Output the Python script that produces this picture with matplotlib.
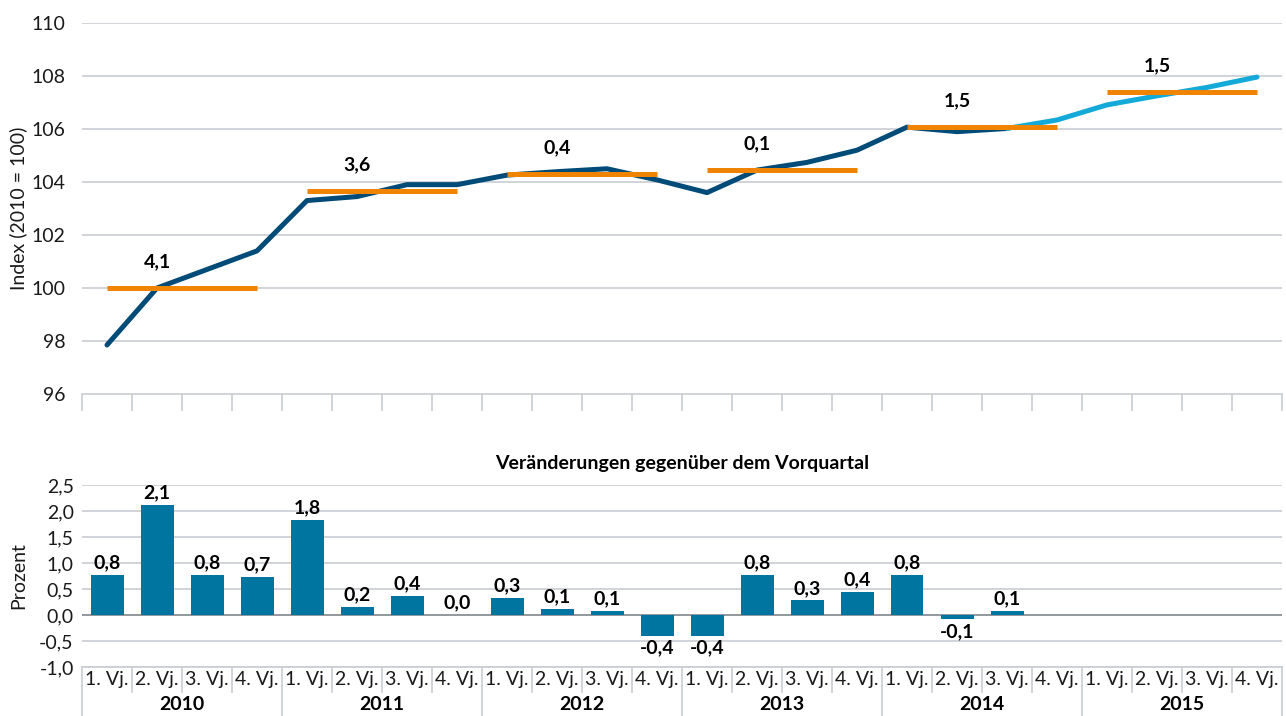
import matplotlib
matplotlib.use("Agg")
import matplotlib.pyplot as plt
import matplotlib.transforms as mtransforms
import numpy as np

plt.rcParams['font.family'] = ['Lato', 'DejaVu Sans']

years = ["2010", "2011", "2012", "2013", "2014", "2015"]
quarters = ["1. Vj.", "2. Vj.", "3. Vj.", "4. Vj."]

# Index (2010 = 100), quarterly; actual values through 2014 Q3, forecast after
index_actual = [97.85, 100.0, 100.7, 101.4, 103.3, 103.45, 103.9, 103.9,
                104.26, 104.39, 104.5, 104.08, 103.6, 104.45, 104.74, 105.2,
                106.07, 105.9, 106.02]
index_forecast = [106.02, 106.34, 106.91, 107.25, 107.57, 107.96]

# Annual averages and annual growth rates
annual_avg = [100.0, 103.66, 104.3, 104.45, 106.08, 107.4]
annual_growth = ["4,1", "3,6", "0,4", "0,1", "1,5", "1,5"]

# Change vs previous quarter (percent)
qoq_change = [0.77, 2.11, 0.77, 0.74, 1.83, 0.16, 0.36, 0.0,
              0.32, 0.12, 0.08, -0.40, -0.40, 0.77, 0.28, 0.44,
              0.77, -0.08, 0.08]

yticks_top = [96, 98, 100, 102, 104, 106, 108, 110]
yticks_bot = [-1.0, -0.5, 0.0, 0.5, 1.0, 1.5, 2.0, 2.5]

DARK = "#004b78"
LIGHT = "#13a9d8"
ORANGE = "#f08300"
BAR = "#0075a0"
GRID = "#c8cdd3"
TXT = "#1a1a1a"
FS = 14

n = len(years) * len(quarters)
x = np.arange(n)

fig = plt.figure(figsize=(12.86, 7.16), dpi=100)
W, H = 1286, 716
L, R = 82 / W, 1282 / W

# ---------------- top panel ----------------
ax = fig.add_axes([L, 1 - 394 / H, R - L, (394 - 23) / H])
ax.set_xlim(-0.5, n - 0.5)
ax.set_ylim(96, 110)
ax.set_yticks(yticks_top)
ax.set_yticklabels([str(t) for t in yticks_top], fontsize=FS, color=TXT)
for t in yticks_top[1:]:
    ax.axhline(t, color=GRID, lw=1.2, zorder=0)
for s in ["top", "right", "left"]:
    ax.spines[s].set_visible(False)
ax.spines["bottom"].set_color(GRID)
ax.spines["bottom"].set_linewidth(1.2)
ax.tick_params(axis="y", length=0, pad=12)
ax.set_xticks(np.arange(n + 1) - 0.5)
ax.set_xticklabels([])
ax.tick_params(axis="x", length=12, color=GRID, width=1.2, direction="out")
ax.set_ylabel("Index (2010 = 100)", fontsize=FS, color=TXT)
ax.yaxis.set_label_coords(-0.046, 0.5)

ax.plot(x[:len(index_actual)], index_actual, color=DARK, lw=3.6,
        solid_capstyle="round", solid_joinstyle="round", zorder=3)
xf = x[len(index_actual) - 1:len(index_actual) - 1 + len(index_forecast)]
ax.plot(xf, index_forecast, color=LIGHT, lw=3.6,
        solid_capstyle="round", solid_joinstyle="round", zorder=3)

for i, (avg, lab) in enumerate(zip(annual_avg, annual_growth)):
    x0 = i * 4
    ax.plot([x0, x0 + 3], [avg, avg], color=ORANGE, lw=3.6,
            solid_capstyle="butt", zorder=4)
    ax.text(x0 + 1, avg + 1.0, lab, ha="center", va="center",
            fontsize=FS, fontweight="bold", color="black", zorder=5)

# ---------------- bottom panel ----------------
bx = fig.add_axes([L, 1 - 667 / H, R - L, (667 - 485) / H])
bx.set_xlim(-0.5, n - 0.5)
bx.set_ylim(-1.0, 2.5)
bx.set_yticks(yticks_bot)
bx.set_yticklabels([f"{t:.1f}".replace(".", ",") for t in yticks_bot],
                   fontsize=FS, color=TXT)
for t in yticks_bot:
    if t == 0.0:
        bx.axhline(t, color="#8a9097", lw=1.3, zorder=1)
    else:
        bx.axhline(t, color=GRID, lw=1.2, zorder=0)
for s in ["top", "right", "left", "bottom"]:
    bx.spines[s].set_visible(False)
bx.tick_params(axis="y", length=0, pad=6)
bx.set_xticks([])
bx.set_ylabel("Prozent", fontsize=FS, color=TXT)
bx.yaxis.set_label_coords(-0.046, 0.5)

xb = x[:len(qoq_change)]
bx.bar(xb, qoq_change, width=0.66, color=BAR, zorder=2)
for xi, v in zip(xb, qoq_change):
    lab = f"{abs(v):.1f}".replace(".", ",")
    if round(v, 1) < 0:
        lab = "-" + lab
        bx.text(xi, v - 0.07, lab, ha="center", va="top", fontsize=FS,
                fontweight="bold", color="black")
    else:
        bx.text(xi, v + 0.07, lab, ha="center", va="bottom", fontsize=FS,
                fontweight="bold", color="black")

bx.text(0.5, 1.12, "Veränderungen gegenüber dem Vorquartal",
        transform=bx.transAxes, ha="center", va="center", fontsize=FS,
        fontweight="bold", color="black")

# category axis (two rows)
trans = mtransforms.blended_transform_factory(bx.transData, fig.transFigure)
y_axis = 1 - 667 / H
y_q = 1 - 680 / H
y_sep_q = 1 - 692 / H
y_year = 1 - 705 / H
y_bottom = 0.0
bx.plot([-0.5, n - 0.5], [y_axis, y_axis], transform=trans, color=GRID,
        lw=1.2, clip_on=False)
for k in range(n + 1):
    xs = k - 0.5
    yb = y_bottom if k % 4 == 0 else y_sep_q
    bx.plot([xs, xs], [y_axis, yb], transform=trans, color=GRID, lw=1.2,
            clip_on=False)
for k in range(n):
    bx.text(k, y_q, quarters[k % 4], transform=trans, ha="center",
            va="center", fontsize=FS, color=TXT)
for i, yr in enumerate(years):
    bx.text(i * 4 + 1.5, y_year, yr, transform=trans, ha="center",
            va="center", fontsize=FS, fontweight="bold", color="black")

fig.savefig("out.png", dpi=100)
